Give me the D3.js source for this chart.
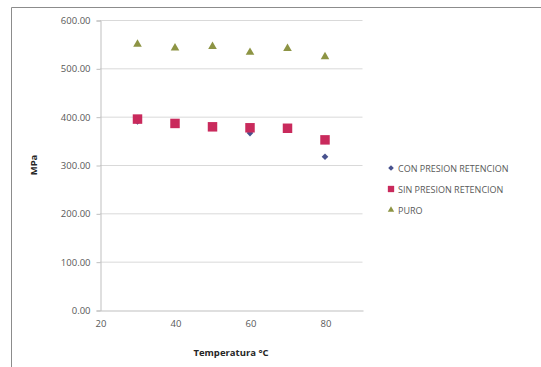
<!DOCTYPE html>
<html>
<head>
<meta charset="utf-8">
<script src="https://cdn.jsdelivr.net/npm/d3@7"></script>
<style>
  html, body { margin: 0; padding: 0; background: #fff; }
  svg { display: block; font-family: "Open Sans", Lato, sans-serif; }
</style>
</head>
<body>
<svg id="chart" width="541" height="367"></svg>
<script>
// Tensile strength (MPa) against temperature (°C)
const temperatures = [30, 40, 50, 60, 70, 80];
const conPresion = [390, 385, 378, 366, 377, 317];
const sinPresion = [395, 386, 379, 377, 376, 352];
const puro = [550, 542, 545, 533, 541, 524];
const xTicks = [20, 40, 60, 80];
const yTicks = [0, 100, 200, 300, 400, 500, 600];
const seriesNames = ["CON PRESION RETENCION", "SIN PRESION RETENCION", "PURO"];

const svg = d3.select("#chart");

// chart frame
svg.append("path")
  .attr("d", "M11.5,367 V7.5 H541")
  .attr("fill", "none")
  .attr("stroke", "#8c8c8c")
  .attr("stroke-width", 1);

const x = d3.scaleLinear().domain([20, 90]).range([100, 362.5]);
const y = d3.scaleLinear().domain([0, 600]).range([310, 20]);

// horizontal gridlines
svg.append("g")
  .selectAll("line")
  .data(yTicks.filter(d => d > 0))
  .join("line")
  .attr("x1", x(20)).attr("x2", x(90))
  .attr("y1", d => y(d) + 0.5).attr("y2", d => y(d) + 0.5)
  .attr("stroke", "#d9d9d9");

// y axis
const yAxis = svg.append("g")
  .attr("transform", `translate(${x(20) + 0.5},0.5)`)
  .call(d3.axisLeft(y).tickValues(yTicks).tickFormat(d3.format(".2f")).tickSize(4).tickPadding(6));
yAxis.select(".domain").attr("stroke", "#bfbfbf");
yAxis.selectAll(".tick line").attr("stroke", "#bfbfbf");
yAxis.selectAll("text").attr("fill", "#595959").attr("font-size", 9.5).attr("font-family", "Open Sans, sans-serif");

// x axis
const xAxis = svg.append("g")
  .attr("transform", `translate(0.5,${y(0) + 0.5})`)
  .call(d3.axisBottom(x).tickValues(xTicks).tickSize(0).tickPadding(10));
xAxis.select(".domain").attr("stroke", "#bfbfbf");
xAxis.selectAll("text").attr("fill", "#595959").attr("font-size", 9.5).attr("font-family", "Open Sans, sans-serif");

// axis titles
svg.append("text")
  .attr("transform", "translate(37,165) rotate(-90)")
  .attr("text-anchor", "middle")
  .attr("font-size", 9.5).attr("font-weight", "bold").attr("fill", "#262626")
  .text("MPa");
svg.append("text")
  .attr("x", 231).attr("y", 356)
  .attr("text-anchor", "middle")
  .attr("font-size", 9.5).attr("font-weight", "bold").attr("fill", "#262626")
  .text("Temperatura °C");

const colors = ["#48528e", "#c92a5c", "#8d9444"];
// diamond = square turned 45°
const symbols = [
  { gen: d3.symbol().type(d3.symbolSquare).size(22), rot: 45 },
  { gen: d3.symbol().type(d3.symbolSquare).size(90), rot: 0 },
  { gen: d3.symbol().type(d3.symbolTriangle).size(32), rot: 0 }
];
const series = [conPresion, sinPresion, puro];

// markers; the diamonds are drawn first so the squares sit over them
series.forEach((vals, i) => {
  svg.append("g")
    .selectAll("path")
    .data(vals)
    .join("path")
    .attr("d", symbols[i].gen)
    .attr("transform", (d, j) => `translate(${x(temperatures[j])},${y(d)}) rotate(${symbols[i].rot})`)
    .attr("fill", colors[i]);
});

// legend
const legendSymbols = [
  { gen: d3.symbol().type(d3.symbolSquare).size(16), rot: 45 },
  { gen: d3.symbol().type(d3.symbolSquare).size(40), rot: 0 },
  { gen: d3.symbol().type(d3.symbolTriangle).size(18), rot: 0 }
];
const legend = svg.append("g").attr("transform", "translate(391,168)");
seriesNames.forEach((name, i) => {
  const row = legend.append("g").attr("transform", `translate(0,${i * 21})`);
  row.append("path").attr("d", legendSymbols[i].gen)
    .attr("transform", `rotate(${legendSymbols[i].rot})`)
    .attr("fill", colors[i]);
  row.append("text")
    .attr("x", 7).attr("y", 3.5)
    .attr("font-size", 9).attr("fill", "#595959")
    .text(name);
});
</script>
</body>
</html>
